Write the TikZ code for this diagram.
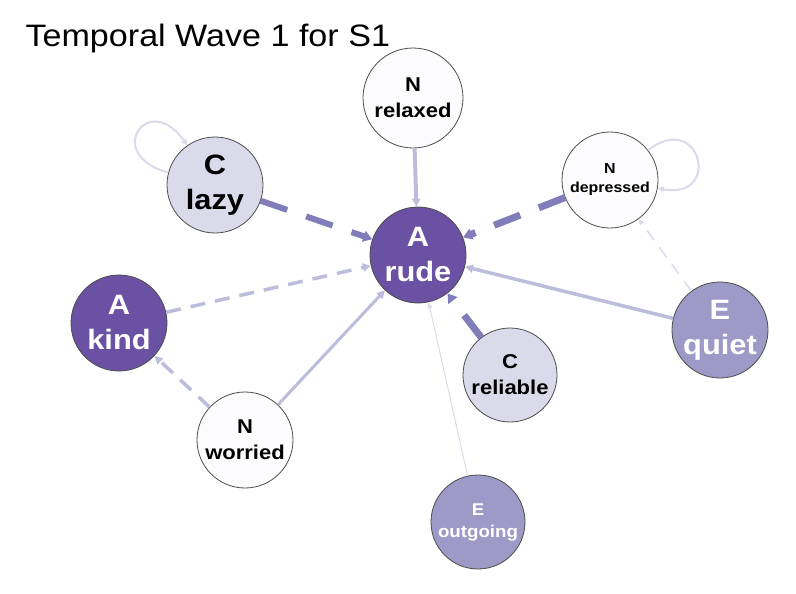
\documentclass[tikz,border=0pt]{standalone}
\usepackage{fontspec}
\setmainfont{Liberation Sans}[FakeStretch=1.1]
\usetikzlibrary{arrows.meta}
\definecolor{traitdark}{RGB}{106,81,163}
\definecolor{traitmid}{RGB}{158,154,200}
\definecolor{traitlight}{RGB}{218,218,235}
\definecolor{traitwhite}{RGB}{252,251,253}
\definecolor{linkdark}{RGB}{128,125,186}
\definecolor{linklight}{RGB}{188,189,220}
\definecolor{linkfaint}{RGB}{218,218,235}

\begin{document}
\begin{tikzpicture}[x=1pt,y=-1pt,
    trait/.style={circle,draw=black!70,line width=0.8pt,minimum size=96pt,inner sep=0pt,align=center},
    bigtxt/.style={font=\bfseries\fontsize{28}{35}\selectfont},
    midtxt/.style={font=\bfseries\fontsize{20}{26}\selectfont},
    smalltxt/.style={font=\bfseries\fontsize{17}{22}\selectfont},
    tinytxt/.style={font=\bfseries\fontsize{14.5}{19}\selectfont},
    heavy/.style={-{Triangle[length=9pt,width=11pt]},draw=linkdark,line width=6pt,dash pattern=on 28pt off 20pt},
    light/.style={-{Triangle[length=8pt,width=8pt]},draw=linklight,line width=3.5pt},
    lightdash/.style={light,dash pattern=on 15pt off 10pt},
    faint/.style={-{Triangle[length=6pt,width=5pt]},draw=linkfaint,line width=1pt},
    selfloop/.style={-{Triangle[length=6pt,width=6pt]},draw=linkfaint,line width=2pt}]
\useasboundingbox (0,0) rectangle (796,594);
\node[font=\fontsize{31}{37}\selectfont,anchor=base west] (title) at (22,47) {Temporal Wave 1 for S1};

\node[trait,fill=traitdark,text=white,bigtxt] (rude) at (418,255) {A\\rude};
\node[trait,fill=traitwhite,midtxt,minimum size=100pt] (relaxed) at (413,98) {N\\relaxed};
\node[trait,fill=traitlight,bigtxt] (lazy) at (215,185) {C\\lazy};
\node[trait,fill=traitwhite,tinytxt] (depressed) at (610,180) {N\\depressed};
\node[trait,fill=traitdark,text=white,bigtxt] (kind) at (119,323) {A\\kind};
\node[trait,fill=traitmid,text=white,bigtxt] (quiet) at (720,330) {E\\quiet};
\node[trait,fill=traitlight,midtxt,minimum size=94pt] (reliable) at (510,375) {C\\reliable};
\node[trait,fill=traitwhite,midtxt] (worried) at (245,440) {N\\worried};
\node[trait,fill=traitmid,text=white,smalltxt,minimum size=94pt] (outgoing) at (478,522) {E\\outgoing};

\draw[light,line width=4pt] (relaxed) -- (rude);
\draw[heavy] (lazy) -- (rude);
\draw[heavy,line width=7pt] (depressed) -- (rude);
\draw[heavy,line width=7pt] (reliable) -- (rude);
\draw[lightdash] (kind) -- (rude);
\draw[light,line width=3pt] (worried) -- (rude);
\draw[lightdash] (worried) -- (kind);
\draw[light] (quiet) -- (rude);
\draw[faint,line width=1.5pt,dash pattern=on 12pt off 9pt] (quiet) -- (depressed);
\draw[faint] (outgoing) -- (rude);
\draw[selfloop] (lazy) to[out=165,in=125,distance=68pt] (lazy);
\draw[selfloop] (depressed) to[out=38,in=-10,distance=66pt] (depressed);
\end{tikzpicture}
\end{document}
